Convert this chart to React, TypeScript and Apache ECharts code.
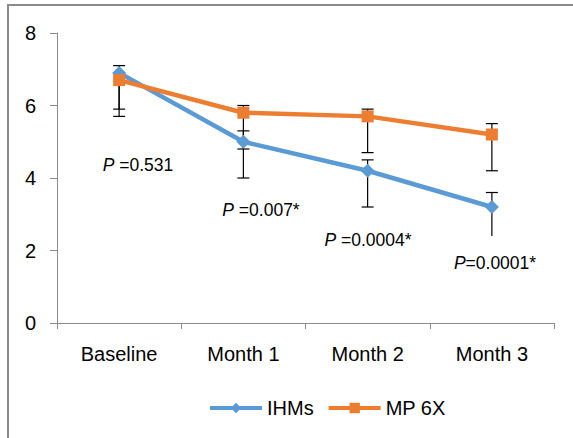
import React, { useEffect, useRef } from "react";
import * as echarts from "echarts";

const categories = ["Baseline", "Month 1", "Month 2", "Month 3"];
const ihms = [6.9, 5.0, 4.2, 3.2];
const ihmsLow = [5.9, 4.0, 3.2, 2.4];
const ihmsHigh = [7.1, 5.3, 4.5, 3.6];
const mp6x = [6.7, 5.8, 5.7, 5.2];
const mp6xLow = [5.7, 4.8, 4.7, 4.2];
const mp6xHigh = [6.9, 6.0, 5.9, 5.5];
const pValues = ["=0.531", "=0.007*", "=0.0004*", "=0.0001*"];
const pSpaces = [" ", " ", " ", ""];
const pPositions = [
  [138, 165],
  [261, 210],
  [368, 240],
  [495, 263],
];

const BLUE = "#5B9BD5";
const ORANGE = "#ED7D31";
const FONT = "'Liberation Sans', Arial, sans-serif";

function errorSeries(name: string, values: number[], lows: number[], highs: number[], lowCaps: boolean[]) {
  return {
    type: "custom",
    name: name + "-err",
    z: 1,
    silent: true,
    data: values.map((v, i) => [i, v, lows[i], highs[i]]),
    renderItem: (params: any, api: any) => {
      const i = api.value(0);
      const mid = api.coord([i, api.value(1)]);
      const lo = api.coord([i, api.value(2)]);
      const hi = api.coord([i, api.value(3)]);
      const hw = 6;
      const style = { stroke: "#000", lineWidth: 1.2 };
      const children: any[] = [
        { type: "line", shape: { x1: mid[0], y1: lo[1], x2: mid[0], y2: hi[1] }, style },
        { type: "line", shape: { x1: mid[0] - hw, y1: hi[1], x2: mid[0] + hw, y2: hi[1] }, style },
      ];
      if (lowCaps[params.dataIndex]) {
        children.push({ type: "line", shape: { x1: mid[0] - hw, y1: lo[1], x2: mid[0] + hw, y2: lo[1] }, style });
      }
      return { type: "group", children };
    },
  };
}

export default function App() {
  const ref = useRef<HTMLDivElement>(null);
  useEffect(() => {
    if (!ref.current) return;
    const chart = echarts.init(ref.current, null, { renderer: "svg" });
    chart.setOption({
      animation: false,
      backgroundColor: "#fff",
      textStyle: { fontFamily: FONT },
      grid: { left: 57, right: 19, top: 33, bottom: 115, containLabel: false },
      xAxis: {
        type: "category",
        data: categories,
        boundaryGap: true,
        axisLine: { lineStyle: { color: "#8c8c8c", width: 1 } },
        axisTick: { show: true, length: 6, lineStyle: { color: "#8c8c8c" } },
        axisLabel: { color: "#000", fontSize: 20, margin: 21, fontFamily: FONT },
        splitLine: { show: false },
      },
      yAxis: {
        type: "value",
        min: 0,
        max: 8,
        interval: 2,
        axisLine: { show: true, lineStyle: { color: "#8c8c8c", width: 1 } },
        axisTick: { show: true, length: 7, lineStyle: { color: "#8c8c8c" } },
        axisLabel: { color: "#000", fontSize: 20, margin: 21, fontFamily: FONT },
        splitLine: { show: false },
      },
      legend: {
        left: 203,
        top: 393,
        itemWidth: 52,
        itemHeight: 13,
        itemGap: 13,
        lineStyle: { width: 4 },
        textStyle: { fontSize: 20, color: "#000", fontFamily: FONT },
        data: ["IHMs", "MP 6X"],
      },
      graphic: [
        {
          type: "rect",
          shape: { x: 8, y: 5, width: 600, height: 500 },
          style: { fill: "none", stroke: "#8a8a8a", lineWidth: 2 },
          silent: true,
        },
        ...pValues.map((t, i) => ({
          type: "text",
          x: pPositions[i][0],
          y: pPositions[i][1],
          silent: true,
          style: {
            text: "{i|P}" + pSpaces[i] + t,
            align: "center",
            verticalAlign: "middle",
            fontSize: 17.5,
            fontFamily: FONT,
            fill: "#000",
            rich: { i: { fontStyle: "italic", fontSize: 17.5, fontFamily: FONT } },
          },
        })),
      ],
      series: [
        errorSeries("IHMs", ihms, ihmsLow, ihmsHigh, [true, true, true, false]),
        errorSeries("MP 6X", mp6x, mp6xLow, mp6xHigh, [true, true, true, true]),
        {
          name: "IHMs",
          type: "line",
          z: 3,
          data: ihms,
          symbol: "diamond",
          symbolSize: 14,
          lineStyle: { color: BLUE, width: 4.5 },
          itemStyle: { color: BLUE },
        },
        {
          name: "MP 6X",
          type: "line",
          z: 4,
          data: mp6x,
          symbol: "rect",
          symbolSize: 12,
          lineStyle: { color: ORANGE, width: 4.5 },
          itemStyle: { color: ORANGE },
        },
      ],
    });
    return () => chart.dispose();
  }, []);
  return (
    <div
      ref={ref}
      style={{ position: "fixed", left: 0, top: 0, width: 573, height: 438 }}
    />
  );
}
